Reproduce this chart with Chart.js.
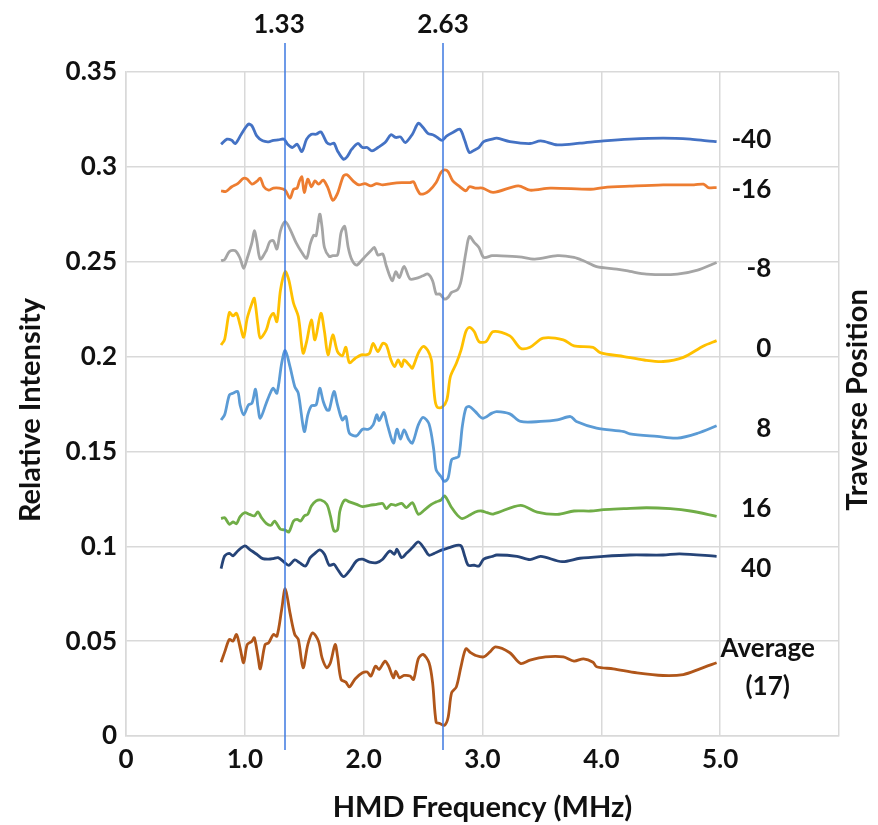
<!DOCTYPE html>
<html>
<head>
<meta charset="utf-8">
<script src="https://cdn.jsdelivr.net/npm/chart.js@4/dist/chart.umd.min.js"></script>
<style>
  html, body { margin: 0; padding: 0; background: #fff; }
</style>
</head>
<body>
<canvas id="hmdChart" width="878" height="825"></canvas>
<script>
// dati: [frequenza MHz, intensita relativa]
const posM40 = [[0.80,0.3119],[0.85,0.3146],[0.89,0.3140],[0.92,0.3123],[0.97,0.3172],[1.03,0.3225],[1.06,0.3216],[1.10,0.3163],[1.15,0.3137],[1.20,0.3132],[1.24,0.3140],[1.28,0.3142],[1.33,0.3146],[1.36,0.3119],[1.40,0.3102],[1.44,0.3119],[1.48,0.3081],[1.52,0.3146],[1.56,0.3172],[1.60,0.3172],[1.64,0.3184],[1.69,0.3128],[1.72,0.3119],[1.75,0.3125],[1.78,0.3084],[1.83,0.3040],[1.86,0.3053],[1.90,0.3093],[1.95,0.3123],[1.99,0.3102],[2.03,0.3102],[2.07,0.3084],[2.12,0.3102],[2.18,0.3128],[2.23,0.3169],[2.27,0.3155],[2.31,0.3158],[2.35,0.3128],[2.41,0.3172],[2.46,0.3230],[2.50,0.3207],[2.54,0.3177],[2.59,0.3167],[2.62,0.3155],[2.66,0.3140],[2.70,0.3163],[2.75,0.3181],[2.81,0.3198],[2.85,0.3140],[2.89,0.3075],[2.93,0.3088],[2.97,0.3102],[3.01,0.3133],[3.08,0.3146],[3.12,0.3151],[3.23,0.3133],[3.40,0.3123],[3.49,0.3137],[3.63,0.3116],[3.82,0.3125],[4.02,0.3137],[4.24,0.3146],[4.52,0.3151],[4.75,0.3146],[4.89,0.3137],[4.97,0.3133]];

const posM16 = [[0.80,0.2874],[0.84,0.2870],[0.89,0.2895],[0.94,0.2912],[0.99,0.2940],[1.02,0.2935],[1.06,0.2909],[1.10,0.2923],[1.13,0.2940],[1.16,0.2895],[1.20,0.2877],[1.24,0.2888],[1.29,0.2888],[1.34,0.2877],[1.38,0.2835],[1.41,0.2882],[1.44,0.2888],[1.46,0.2926],[1.48,0.2947],[1.50,0.2865],[1.53,0.2935],[1.56,0.2895],[1.59,0.2926],[1.62,0.2909],[1.66,0.2930],[1.70,0.2888],[1.74,0.2824],[1.78,0.2860],[1.83,0.2953],[1.86,0.2958],[1.91,0.2926],[1.96,0.2905],[2.01,0.2912],[2.06,0.2900],[2.11,0.2912],[2.16,0.2905],[2.23,0.2912],[2.32,0.2917],[2.39,0.2917],[2.42,0.2921],[2.45,0.2882],[2.48,0.2856],[2.55,0.2874],[2.61,0.2917],[2.65,0.2970],[2.68,0.2984],[2.71,0.2975],[2.75,0.2926],[2.80,0.2900],[2.86,0.2874],[2.89,0.2895],[2.94,0.2888],[3.00,0.2888],[3.09,0.2865],[3.30,0.2900],[3.40,0.2877],[3.57,0.2888],[3.91,0.2882],[4.02,0.2891],[4.24,0.2898],[4.52,0.2905],[4.78,0.2905],[4.86,0.2909],[4.90,0.2891],[4.97,0.2891]];

const posM8 = [[0.80,0.2505],[0.83,0.2511],[0.87,0.2553],[0.92,0.2558],[0.96,0.2518],[0.99,0.2465],[1.02,0.2518],[1.06,0.2602],[1.08,0.2663],[1.10,0.2611],[1.13,0.2514],[1.18,0.2558],[1.21,0.2605],[1.24,0.2611],[1.27,0.2567],[1.30,0.2663],[1.34,0.2711],[1.38,0.2672],[1.43,0.2602],[1.48,0.2549],[1.52,0.2518],[1.55,0.2593],[1.58,0.2640],[1.60,0.2637],[1.63,0.2751],[1.65,0.2681],[1.67,0.2575],[1.71,0.2528],[1.74,0.2532],[1.78,0.2535],[1.81,0.2654],[1.84,0.2686],[1.87,0.2575],[1.90,0.2511],[1.94,0.2482],[1.98,0.2505],[2.02,0.2532],[2.06,0.2558],[2.09,0.2575],[2.12,0.2535],[2.16,0.2541],[2.19,0.2479],[2.24,0.2400],[2.27,0.2447],[2.30,0.2417],[2.34,0.2475],[2.39,0.2409],[2.44,0.2412],[2.50,0.2426],[2.54,0.2435],[2.58,0.2400],[2.61,0.2330],[2.64,0.2330],[2.68,0.2303],[2.71,0.2312],[2.74,0.2338],[2.79,0.2353],[2.82,0.2400],[2.86,0.2549],[2.89,0.2633],[2.93,0.2602],[2.97,0.2575],[3.01,0.2523],[3.08,0.2532],[3.12,0.2532],[3.31,0.2526],[3.44,0.2514],[3.63,0.2532],[3.77,0.2523],[3.85,0.2505],[3.96,0.2474],[4.13,0.2461],[4.24,0.2449],[4.38,0.2435],[4.64,0.2435],[4.81,0.2456],[4.97,0.2496]];

const pos0 = [[0.80,0.2061],[0.83,0.2091],[0.87,0.2232],[0.90,0.2214],[0.93,0.2228],[0.96,0.2167],[0.99,0.2102],[1.02,0.2202],[1.06,0.2281],[1.08,0.2307],[1.11,0.2167],[1.13,0.2097],[1.18,0.2140],[1.21,0.2202],[1.24,0.2228],[1.27,0.2184],[1.30,0.2351],[1.34,0.2448],[1.37,0.2404],[1.41,0.2281],[1.45,0.2211],[1.49,0.2018],[1.52,0.2079],[1.56,0.2193],[1.59,0.2088],[1.64,0.2228],[1.67,0.2132],[1.70,0.2009],[1.74,0.2114],[1.78,0.2026],[1.82,0.2004],[1.85,0.2049],[1.88,0.1968],[1.93,0.1991],[1.98,0.2009],[2.02,0.2009],[2.05,0.2018],[2.08,0.2070],[2.12,0.2026],[2.16,0.2070],[2.19,0.2061],[2.23,0.1982],[2.26,0.1947],[2.29,0.1982],[2.32,0.1947],[2.34,0.1982],[2.39,0.1951],[2.41,0.1939],[2.46,0.2018],[2.50,0.2053],[2.54,0.2032],[2.57,0.1982],[2.58,0.1912],[2.60,0.1772],[2.62,0.1733],[2.66,0.1733],[2.70,0.1772],[2.73,0.1895],[2.78,0.1965],[2.82,0.2035],[2.86,0.2132],[2.89,0.2154],[2.93,0.2132],[2.97,0.2079],[3.03,0.2079],[3.09,0.2132],[3.23,0.2109],[3.32,0.2044],[3.40,0.2049],[3.51,0.2097],[3.68,0.2088],[3.77,0.2056],[3.93,0.2049],[3.99,0.2021],[4.19,0.2000],[4.36,0.1982],[4.52,0.1974],[4.69,0.1996],[4.86,0.2056],[4.97,0.2084]];

const pos8 = [[0.80,0.1666],[0.83,0.1693],[0.87,0.1798],[0.90,0.1807],[0.94,0.1816],[0.96,0.1745],[0.99,0.1693],[1.03,0.1745],[1.06,0.1754],[1.09,0.1828],[1.11,0.1737],[1.13,0.1675],[1.18,0.1754],[1.22,0.1816],[1.24,0.1833],[1.27,0.1807],[1.31,0.1965],[1.34,0.2032],[1.38,0.1947],[1.42,0.1842],[1.45,0.1807],[1.50,0.1605],[1.53,0.1693],[1.56,0.1740],[1.60,0.1745],[1.63,0.1833],[1.66,0.1763],[1.69,0.1719],[1.71,0.1719],[1.75,0.1816],[1.78,0.1745],[1.82,0.1666],[1.85,0.1684],[1.88,0.1596],[1.94,0.1582],[1.99,0.1617],[2.04,0.1617],[2.08,0.1640],[2.11,0.1693],[2.13,0.1663],[2.17,0.1705],[2.20,0.1640],[2.25,0.1544],[2.28,0.1617],[2.31,0.1565],[2.34,0.1614],[2.38,0.1561],[2.41,0.1544],[2.46,0.1640],[2.50,0.1680],[2.55,0.1645],[2.59,0.1508],[2.61,0.1403],[2.65,0.1368],[2.68,0.1342],[2.71,0.1359],[2.74,0.1456],[2.77,0.1465],[2.80,0.1473],[2.83,0.1631],[2.86,0.1728],[2.89,0.1737],[2.94,0.1710],[3.00,0.1675],[3.08,0.1702],[3.12,0.1710],[3.23,0.1698],[3.32,0.1658],[3.49,0.1658],[3.63,0.1666],[3.74,0.1684],[3.79,0.1658],[3.96,0.1623],[4.19,0.1605],[4.24,0.1593],[4.47,0.1579],[4.64,0.1570],[4.81,0.1596],[4.97,0.1635]];

const pos16 = [[0.80,0.1146],[0.83,0.1151],[0.87,0.1116],[0.90,0.1128],[0.93,0.1119],[0.96,0.1156],[1.00,0.1177],[1.04,0.1168],[1.08,0.1160],[1.11,0.1181],[1.14,0.1151],[1.18,0.1121],[1.22,0.1111],[1.25,0.1133],[1.30,0.1090],[1.34,0.1086],[1.37,0.1075],[1.41,0.1133],[1.44,0.1142],[1.47,0.1133],[1.50,0.1160],[1.53,0.1169],[1.56,0.1212],[1.60,0.1239],[1.64,0.1244],[1.69,0.1221],[1.72,0.1160],[1.75,0.1081],[1.78,0.1086],[1.80,0.1186],[1.84,0.1244],[1.88,0.1234],[1.94,0.1221],[1.99,0.1209],[2.05,0.1216],[2.11,0.1221],[2.16,0.1226],[2.19,0.1198],[2.23,0.1221],[2.27,0.1216],[2.32,0.1226],[2.36,0.1204],[2.41,0.1230],[2.46,0.1169],[2.51,0.1191],[2.57,0.1221],[2.61,0.1234],[2.65,0.1244],[2.68,0.1265],[2.71,0.1239],[2.74,0.1204],[2.79,0.1163],[2.83,0.1146],[2.89,0.1163],[2.94,0.1181],[2.99,0.1186],[3.04,0.1177],[3.09,0.1170],[3.32,0.1216],[3.46,0.1180],[3.63,0.1168],[3.77,0.1186],[3.91,0.1186],[4.02,0.1193],[4.19,0.1198],[4.38,0.1203],[4.58,0.1198],[4.75,0.1186],[4.97,0.1158]];

const pos40 = [[0.80,0.0882],[0.83,0.0949],[0.87,0.0963],[0.90,0.0949],[0.94,0.0975],[1.00,0.1002],[1.04,0.0984],[1.10,0.0958],[1.15,0.0935],[1.20,0.0932],[1.24,0.0935],[1.28,0.0940],[1.33,0.0917],[1.37,0.0900],[1.42,0.0928],[1.46,0.0914],[1.51,0.0896],[1.55,0.0940],[1.59,0.0963],[1.63,0.0981],[1.67,0.0958],[1.71,0.0900],[1.75,0.0905],[1.78,0.0879],[1.83,0.0840],[1.88,0.0870],[1.94,0.0923],[1.99,0.0932],[2.05,0.0917],[2.11,0.0914],[2.16,0.0932],[2.22,0.0975],[2.26,0.0958],[2.28,0.0984],[2.32,0.0940],[2.36,0.0963],[2.41,0.0993],[2.46,0.1023],[2.51,0.0988],[2.55,0.0953],[2.61,0.0967],[2.66,0.0981],[2.72,0.0993],[2.78,0.1005],[2.82,0.1002],[2.85,0.0949],[2.88,0.0900],[2.93,0.0900],[2.97,0.0896],[3.01,0.0932],[3.08,0.0946],[3.12,0.0954],[3.29,0.0947],[3.40,0.0930],[3.49,0.0947],[3.67,0.0919],[3.82,0.0937],[4.02,0.0947],[4.24,0.0954],[4.52,0.0954],[4.66,0.0960],[4.97,0.0947]];

const posAvg = [[0.80,0.0389],[0.83,0.0442],[0.87,0.0509],[0.90,0.0500],[0.93,0.0535],[0.96,0.0465],[0.99,0.0386],[1.02,0.0482],[1.06,0.0500],[1.08,0.0518],[1.11,0.0421],[1.13,0.0354],[1.17,0.0482],[1.20,0.0491],[1.24,0.0535],[1.27,0.0526],[1.31,0.0667],[1.34,0.0776],[1.38,0.0649],[1.42,0.0535],[1.45,0.0509],[1.49,0.0360],[1.53,0.0482],[1.57,0.0544],[1.62,0.0500],[1.65,0.0412],[1.69,0.0360],[1.72,0.0386],[1.76,0.0482],[1.78,0.0421],[1.81,0.0298],[1.85,0.0284],[1.88,0.0259],[1.93,0.0302],[1.99,0.0333],[2.03,0.0337],[2.06,0.0316],[2.10,0.0368],[2.13,0.0351],[2.18,0.0395],[2.21,0.0368],[2.25,0.0307],[2.27,0.0342],[2.30,0.0307],[2.34,0.0319],[2.39,0.0316],[2.42,0.0298],[2.46,0.0407],[2.50,0.0430],[2.55,0.0386],[2.58,0.0281],[2.61,0.0073],[2.64,0.0066],[2.68,0.0056],[2.71,0.0096],[2.74,0.0228],[2.78,0.0259],[2.82,0.0368],[2.86,0.0460],[2.90,0.0439],[2.94,0.0425],[3.01,0.0417],[3.06,0.0442],[3.11,0.0470],[3.23,0.0439],[3.32,0.0382],[3.40,0.0400],[3.53,0.0417],[3.68,0.0417],[3.77,0.0395],[3.85,0.0407],[3.93,0.0389],[3.96,0.0365],[4.10,0.0354],[4.30,0.0333],[4.52,0.0319],[4.69,0.0324],[4.83,0.0354],[4.97,0.0386]];

// nomi delle serie (traverse position) e dove stanno le etichette a destra
const traverseNames = ['-40', '-16', '-8', '0', '8', '16', '40', 'Average'];
const labelLevels = [0.3144, 0.2881, 0.2465, 0.2044, 0.1622, 0.1196, 0.0880, 0.0463];
const seriesData = [posM40, posM16, posM8, pos0, pos8, pos16, pos40, posAvg];
const lineColors = ['#4472C4', '#ED7D31', '#A5A5A5', '#FFC000', '#5B9BD5', '#70AD47', '#264478', '#B0561A'];

// linee verticali di riferimento
const markerLabels = ['1.33', '2.63'];
const markerFreqs = [1.34, 2.665];

const FONT = 'Lato, "Liberation Sans", sans-serif';

// plugin x disegnare linee di riferimento, etichette e titoli
const annotations = {
    id: 'annotations',
    afterDatasetsDraw(chart) {
        const { ctx, chartArea: area, scales: { x, y } } = chart;
        ctx.save();

        // linee blu verticali + etichette sopra
        ctx.strokeStyle = '#3D78E0';
        ctx.lineWidth = 1.5;
        ctx.fillStyle = '#111';
        ctx.font = 'bold 26px ' + FONT;
        ctx.textAlign = 'center';
        ctx.textBaseline = 'middle';
        markerFreqs.forEach((f, i) => {
            const px = Math.round(x.getPixelForValue(f));
            ctx.beginPath();
            ctx.moveTo(px, area.top - 29);
            ctx.lineTo(px, area.bottom + 14);
            ctx.stroke();
            ctx.fillText(markerLabels[i], px - (i === 0 ? 6 : 0), area.top - 47);
        });

        // etichette delle serie a destra
        traverseNames.forEach((name, i) => {
            const py = y.getPixelForValue(labelLevels[i]);
            if (name === 'Average') {
                ctx.textAlign = 'center';
                const px = x.getPixelForValue(5.40);
                ctx.fillText(name, px, py);
                ctx.fillText('(17)', px, y.getPixelForValue(0.0258));
            } else {
                ctx.textAlign = 'right';
                ctx.fillText(name, x.getPixelForValue(5.43), py);
            }
        });

        // titoli assi
        ctx.font = 'bold 29px ' + FONT;
        ctx.textAlign = 'center';
        ctx.fillText('HMD Frequency (MHz)', (area.left + area.right) / 2, area.bottom + 72);

        ctx.save();
        ctx.translate(31, 410);
        ctx.rotate(-Math.PI / 2);
        ctx.fillText('Relative Intensity', 0, 0);
        ctx.restore();

        ctx.save();
        ctx.translate(858, 400);
        ctx.rotate(-Math.PI / 2);
        ctx.fillText('Traverse Position', 0, 0);
        ctx.restore();

        ctx.restore();
    }
};

const ctx = document.getElementById('hmdChart').getContext('2d');

const myChart = new Chart(ctx, {
    type: 'line',
    data: {
        datasets: seriesData.map((pts, i) => ({
            label: traverseNames[i],
            data: pts.map(p => ({ x: p[0], y: p[1] })),
            borderColor: lineColors[i],
            borderWidth: 2.8,
            pointRadius: 0,
            tension: 0.3,
            fill: false
        }))
    },
    options: {
        responsive: false,
        animation: false,
        layout: { padding: { top: 72, right: 39, left: 0, bottom: 0 } },
        plugins: {
            legend: { display: false },
            tooltip: { enabled: false }
        },
        scales: {
            x: {
                type: 'linear',
                min: 0,
                max: 6,
                grid: { color: '#d9d9d9', lineWidth: 1.5, drawTicks: false },
                border: { color: '#d9d9d9', width: 1.5 },
                ticks: {
                    stepSize: 1,
                    autoSkip: false,
                    maxRotation: 0,
                    padding: 8,
                    color: '#111',
                    font: { family: FONT, size: 26, weight: 'bold' },
                    callback: v => v === 0 ? '0' : (v >= 6 ? '' : v.toFixed(1))
                },
                afterFit: s => { s.height = 89; }
            },
            y: {
                min: 0,
                max: 0.35,
                grid: { color: '#d9d9d9', lineWidth: 1.5, drawTicks: false },
                border: { color: '#d9d9d9', width: 1.5 },
                ticks: {
                    stepSize: 0.05,
                    padding: 9,
                    color: '#111',
                    font: { family: FONT, size: 26, weight: 'bold' },
                    callback: v => String(Math.round(v * 100) / 100)
                },
                afterFit: s => { s.width = 126; }
            }
        }
    },
    plugins: [annotations]
});
</script>
</body>
</html>
